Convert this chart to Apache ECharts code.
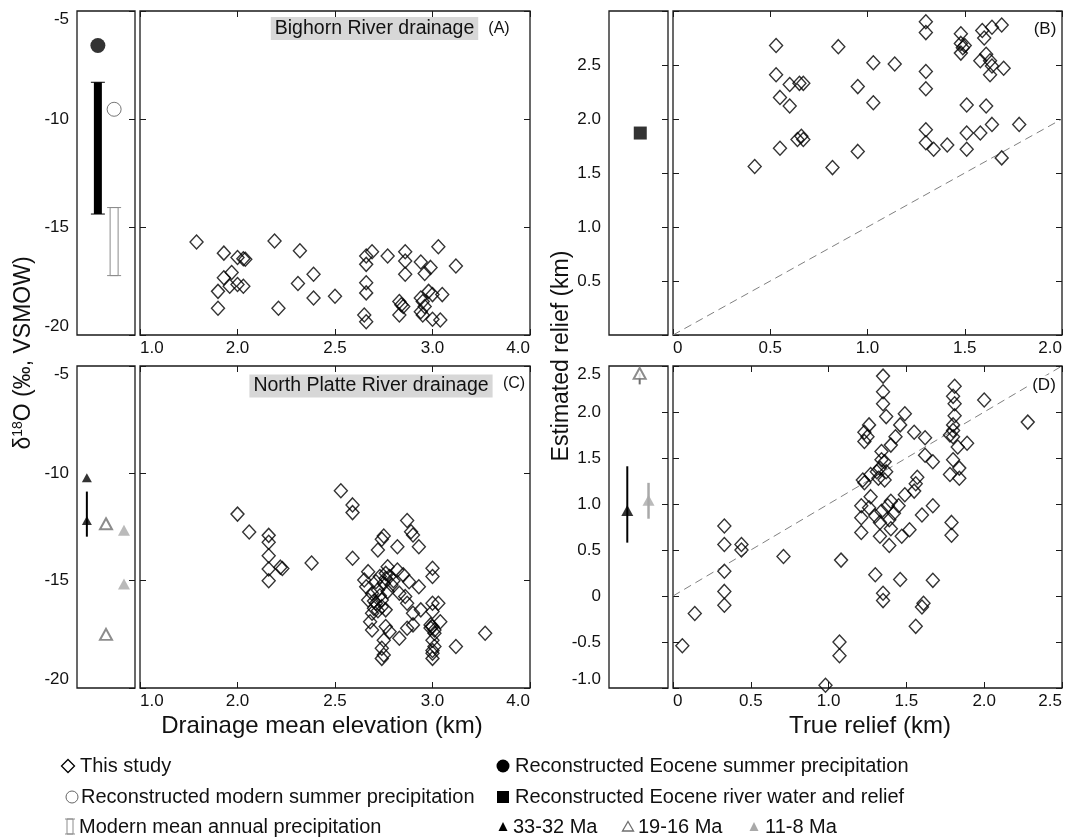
<!DOCTYPE html>
<html>
<head>
<meta charset="utf-8">
<script src="https://cdn.jsdelivr.net/npm/echarts@6/dist/echarts.min.js"></script>
<style>
  html, body { margin: 0; padding: 0; background: #fff; }
  #chart { width: 1065px; height: 837px; }
</style>
</head>
<body>
<div id="chart"></div>
<script>
// ---------- data ----------
// Elevation axis tick labels (as printed on the panels)
const elevTickLabels = ['1.0', '2.0', '2.5', '3.0', '4.0'];

// (A) Bighorn River drainage: mean elevation (km) vs d18O
const bighornElev = [1.79, 1.93, 2.00, 2.03, 2.04, 2.19, 2.32, 2.66, 2.69, 2.77, 2.86, 2.94, 3.03, 3.12, 2.66, 2.86, 2.99,
  1.93, 1.97, 1.90, 1.96, 2.00, 2.03, 1.90, 2.21, 2.31, 2.39, 2.39, 2.50, 2.66, 2.66, 2.65, 2.66,
  2.86, 2.96, 2.83, 2.84, 2.85, 2.83, 2.94, 2.95, 2.98, 3.00, 3.05, 2.96, 2.94, 2.95, 3.00, 3.04];
const bighornD18O = [-15.69, -16.21, -16.41, -16.47, -16.49, -15.65, -16.10, -16.34, -16.15, -16.34, -16.15, -16.62, -15.91, -16.81, -16.73, -16.57, -16.87,
  -17.35, -17.11, -17.98, -17.74, -17.66, -17.74, -18.76, -18.76, -17.62, -17.19, -18.29, -18.21, -17.58, -18.05, -19.07, -19.39,
  -17.19, -17.15, -18.45, -18.60, -18.68, -19.07, -18.29, -18.45, -17.98, -18.13, -18.13, -18.68, -18.92, -19.07, -19.27, -19.31];

// (C) North Platte River drainage
const platteElev = [2.00, 2.06, 2.16, 2.16, 2.16, 2.16, 2.16, 2.22, 2.23, 2.38,
  2.53, 2.59, 2.59, 2.87, 2.89, 2.90, 2.75, 2.74, 2.72, 2.82, 2.93, 2.59, 3.00, 3.00,
  2.67, 2.77, 2.76, 2.73, 2.78, 2.82, 2.65, 2.71, 2.75, 2.79, 2.85, 2.88, 2.93, 2.66,
  2.72, 2.77, 2.83, 2.86, 2.87, 2.67, 2.71, 2.74, 2.76, 2.70, 2.69, 2.90, 2.94, 3.00,
  3.03, 3.00, 3.04, 2.99, 3.00, 3.01, 2.68, 2.69, 2.76, 2.78, 2.83, 2.87, 2.90, 2.75,
  2.74, 2.75, 3.00, 3.01, 3.00, 3.12, 3.27, 2.74, 3.00, 3.00, 2.69, 2.73, 2.70, 2.74,
  2.76, 2.80, 2.72, 3.01, 2.99];
const platteD18O = [-11.90, -12.73, -12.89, -13.21, -13.84, -14.46, -15.00, -14.37, -14.43, -14.18,
  -10.81, -11.47, -11.83, -12.20, -12.72, -12.87, -12.92, -13.07, -13.57, -13.42, -13.42, -13.96, -14.42, -14.81,
  -14.58, -14.35, -14.66, -14.81, -14.81, -14.50, -14.97, -15.05, -15.12, -15.20, -14.73, -15.05, -15.28, -15.28,
  -15.43, -15.51, -15.59, -15.74, -16.05, -15.90, -16.05, -16.21, -16.36, -16.29, -16.52, -16.52, -16.36, -16.05,
  -16.05, -16.44, -16.91, -17.06, -17.14, -17.45, -16.91, -17.30, -17.14, -17.38, -17.68, -17.22, -17.06, -17.78,
  -18.15, -18.46, -17.78, -18.07, -18.38, -18.07, -17.45, -18.62, -18.62, -18.25, -15.60, -15.70, -15.95, -15.90,
  -14.90, -15.00, -16.40, -17.30, -17.20];

// (B) Bighorn: true relief vs estimated relief (km)
const bighornTrueRelief = [0.42, 0.53, 0.53, 0.55, 0.55, 0.60, 0.60, 0.65, 0.67, 0.64, 0.66, 0.67, 0.85, 0.82, 0.95, 0.95,
  1.03, 1.03, 1.14, 1.30, 1.30, 1.30, 1.30, 1.30, 1.30, 1.34, 1.41, 1.48, 1.48, 1.49, 1.48, 1.50, 1.51, 1.51, 1.51,
  1.58, 1.59, 1.60, 1.64, 1.69, 1.58, 1.61, 1.63, 1.64, 1.63, 1.70, 1.61, 1.64, 1.69, 1.78];
const bighornEstRelief = [1.56, 2.68, 2.41, 2.20, 1.73, 2.12, 2.32, 2.33, 2.33, 1.81, 1.84, 1.81, 2.67, 1.55, 2.30, 1.70,
  2.52, 2.15, 2.51, 2.90, 2.80, 2.44, 2.28, 1.90, 1.78, 1.72, 1.76, 2.79, 2.70, 2.66, 2.61, 2.68, 2.13, 1.87, 1.72,
  1.87, 2.82, 2.75, 2.85, 2.87, 2.54, 2.60, 2.54, 2.49, 2.41, 2.47, 2.12, 1.95, 1.64, 1.95];

// (D) North Platte: true relief vs estimated relief (km)
const platteTrueRelief = [0.06, 0.14, 0.33, 0.33, 0.33, 0.33, 0.33, 0.44, 0.44, 0.71, 0.98, 1.07, 1.07, 1.08,
  1.30, 1.35, 1.35, 1.46, 1.67, 1.61, 1.60, 1.56, 1.21, 1.33, 1.39, 1.47, 1.52, 1.60, 1.67, 1.79, 1.79,
  1.21, 1.21, 1.27, 1.26, 1.30, 1.34, 1.33, 1.38, 1.40, 1.42, 1.39, 1.40, 1.45, 1.49, 1.55, 1.56, 1.57,
  1.22, 1.23, 1.27, 1.31, 1.33, 1.32, 1.36, 1.37, 1.34, 1.34, 1.36, 1.43, 1.40, 1.23, 1.23, 1.26, 1.25,
  1.49, 1.46, 1.55, 1.62, 1.62, 1.67, 1.35, 1.35, 1.35, 1.37, 1.81, 1.80, 1.81, 1.81, 1.80, 1.78, 1.80,
  1.80, 1.83, 1.89, 1.80, 1.78, 1.84, 1.84, 2.00, 2.28];
const platteEstRelief = [-0.54, -0.19, 0.76, 0.56, 0.27, 0.05, -0.10, 0.56, 0.50, 0.43, -0.97, -0.50, -0.65, 0.39,
  0.23, 0.03, -0.05, 0.18, 0.17, -0.08, -0.12, -0.33, 0.69, 0.65, 0.55, 0.65, 0.72, 0.88, 0.98, 0.80, 0.66,
  0.98, 0.85, 1.08, 0.96, 0.87, 0.92, 0.80, 0.98, 1.03, 0.90, 0.83, 0.73, 0.98, 1.10, 1.14, 1.22, 1.29,
  1.26, 1.23, 1.32, 1.35, 1.39, 1.28, 1.26, 1.35, 1.57, 1.48, 1.46, 1.73, 1.64, 1.78, 1.68, 1.86, 1.73,
  1.98, 1.86, 1.78, 1.72, 1.53, 1.46, 2.39, 2.22, 2.09, 1.95, 2.28, 2.17, 2.09, 1.96, 1.86, 1.75, 1.73,
  1.80, 1.62, 1.66, 1.48, 1.32, 1.39, 1.28, 2.13, 1.89];

// Side-strip reference values
const eoceneSummerD18O = [-6.6];
const eoceneRangeD18O = [-8.3, -14.4];
const modernSummerD18O = [-9.55];
const modernAnnualRangeD18O = [-14.1, -17.25];
const eoceneRiverRelief = [1.87];
const ma33D18O = [-10.2, -12.2];
const ma33RangeD18O = [-10.85, -12.95];
const ma19D18O = [-12.35, -17.5];
const ma11D18O = [-12.65, -15.15];
const ma33Relief = [0.93];
const ma33RangeRelief = [0.58, 1.41];
const ma19Relief = [2.42];
const ma19RangeRelief = [2.30, 2.42];
const ma11Relief = [1.04];
const ma11RangeRelief = [0.84, 1.23];

// 1:1 reference lines (true relief = estimated relief)
const oneToOneB = [0, 2.0];
const oneToOneD = [0, 2.5];

// ---------- layout & styling ----------
const FONT = '"Liberation Sans", Arial, Helvetica, sans-serif';
const INK = '#111';
const FRAME = '#1a1a1a';
const GRAY_DARK = '#6f6f6f';
const GRAY_LIGHT = '#a9a9a9';

const grids = [], xAxes = [], yAxes = [], series = [];

const tickStyle = { inside: true, length: 6, lineStyle: { color: FRAME, width: 1 } };
const noLine = { show: false, onZero: false };
const labelBase = { color: INK, fontFamily: FONT, fontSize: 17 };

function fmtElev(v) { return elevTickLabels[Math.round((v - 1.5) / 0.5)] || ''; }
function fmtRelief(v) { return Math.abs(v) < 1e-9 ? '0' : v.toFixed(1); }
function fmtD18O(v) { return String(Math.round(v)); }

// One framed grid; returns the bottom-x / left-y axis indices
function addGrid(box, xSpec, ySpec, strip) {
  const gi = grids.length;
  grids.push({ left: box[0], top: box[1], width: box[2], height: box[3], show: true,
    borderColor: FRAME, borderWidth: 1.3, backgroundColor: 'rgba(0,0,0,0)' });
  const xi = xAxes.length, yi = yAxes.length;
  const yCommon = { type: 'value', gridIndex: gi, min: ySpec.min, max: ySpec.max, interval: ySpec.interval,
    axisLine: noLine, splitLine: { show: false } };
  if (strip) {
    xAxes.push({ type: 'value', gridIndex: gi, min: 0, max: 1, show: false, axisLine: noLine });
    yAxes.push(Object.assign({}, yCommon, { position: 'left', axisTick: { show: false },
      axisLabel: Object.assign({ margin: 8, formatter: ySpec.fmt, showMinLabel: true, showMaxLabel: true,
        verticalAlignMinLabel: 'bottom', verticalAlignMaxLabel: 'top' }, labelBase) }));
    yAxes.push(Object.assign({}, yCommon, { position: 'right', axisTick: tickStyle, axisLabel: { show: false } }));
  } else {
    const xCommon = { type: 'value', gridIndex: gi, min: xSpec.min, max: xSpec.max, interval: xSpec.interval,
      axisLine: noLine, axisTick: tickStyle, splitLine: { show: false } };
    xAxes.push(Object.assign({}, xCommon, { position: 'bottom',
      axisLabel: Object.assign({ margin: 5, formatter: xSpec.fmt, showMinLabel: true, showMaxLabel: true,
        alignMinLabel: 'left', alignMaxLabel: 'right' }, labelBase) }));
    xAxes.push(Object.assign({}, xCommon, { position: 'top', axisLabel: { show: false } }));
    yAxes.push(Object.assign({}, yCommon, { position: 'left', axisTick: tickStyle, axisLabel: { show: false } }));
    yAxes.push(Object.assign({}, yCommon, { position: 'right', axisTick: tickStyle, axisLabel: { show: false } }));
  }
  return { xi, yi };
}

const d18oY = { min: -20, max: -5, interval: 5, fmt: fmtD18O };
const elevX = { min: 1.5, max: 3.5, interval: 0.5, fmt: fmtElev };
const reliefYB = { min: 0, max: 3, interval: 0.5, fmt: v => (v <= 0 || v >= 3) ? '' : v.toFixed(1) };
const reliefXB = { min: 0, max: 2, interval: 0.5, fmt: fmtRelief };
const reliefYD = { min: -1, max: 2.5, interval: 0.5, fmt: fmtRelief };
const reliefXD = { min: 0, max: 2.5, interval: 0.5, fmt: fmtRelief };

const aStrip = addGrid([77, 11, 58, 324], null, d18oY, true);
const aMain  = addGrid([140, 11, 390, 324], elevX, d18oY, false);
const bStrip = addGrid([609, 11, 59, 324], null, reliefYB, true);
const bMain  = addGrid([673, 11, 390, 324], reliefXB, reliefYB, false);
const cStrip = addGrid([77, 366, 58, 322], null, d18oY, true);
const cMain  = addGrid([140, 366, 390, 322], elevX, d18oY, false);
const dStrip = addGrid([609, 366, 59, 322], null, reliefYD, true);
const dMain  = addGrid([673, 366, 390, 322], reliefXD, reliefYD, false);

// ---------- series builders ----------
function pairs(xs, ys) { return xs.map((x, i) => [x, ys[i]]); }

function diamonds(ax, xs, ys) {
  series.push({ type: 'scatter', xAxisIndex: ax.xi, yAxisIndex: ax.yi, silent: true, z: 4,
    symbol: 'diamond', symbolSize: [13, 14],
    itemStyle: { color: 'rgba(0,0,0,0)', borderColor: '#000', borderWidth: 1.4 },
    data: pairs(xs, ys) });
}

function marker(ax, col, values, symbol, size, itemStyle) {
  series.push({ type: 'scatter', xAxisIndex: ax.xi, yAxisIndex: ax.yi, silent: true, z: 5,
    symbol, symbolSize: size, itemStyle, data: values.map(v => [col, v]) });
}

function identityLine(ax, ends) {
  series.push({ type: 'line', xAxisIndex: ax.xi, yAxisIndex: ax.yi, silent: true, z: 2, symbol: 'none',
    lineStyle: { color: '#808080', width: 1, type: [8, 5] },
    data: ends.map(v => [v, v]) });
}

// kind: 'solid' thick bar with caps, 'open' outlined bar with caps, 'line' plain error line
function rangeMark(ax, col, range, kind, color, width) {
  series.push({ type: 'custom', xAxisIndex: ax.xi, yAxisIndex: ax.yi, silent: true, z: 3,
    data: [[col, range[0], range[1]]],
    renderItem(params, api) {
      const p1 = api.coord([api.value(0), api.value(1)]);
      const p2 = api.coord([api.value(0), api.value(2)]);
      const x = p1[0];
      const y0 = Math.min(p1[1], p2[1]), y1 = Math.max(p1[1], p2[1]);
      const children = [];
      if (kind === 'line') {
        children.push({ type: 'line', shape: { x1: x, y1: y0, x2: x, y2: y1 },
          style: { stroke: color, lineWidth: width } });
      } else {
        const half = width / 2;
        children.push({ type: 'rect', shape: { x: x - half, y: y0, width: width, height: y1 - y0 },
          style: kind === 'solid' ? { fill: color } : { fill: '#fff', stroke: color, lineWidth: 1 } });
        [y0, y1].forEach(yy => children.push({ type: 'line', shape: { x1: x - 7, y1: yy, x2: x + 7, y2: yy },
          style: { stroke: color, lineWidth: 1 } }));
      }
      return { type: 'group', children };
    } });
}

// ---------- panel A ----------
rangeMark(aStrip, 0.36, eoceneRangeD18O, 'solid', '#000', 8);
rangeMark(aStrip, 0.64, modernAnnualRangeD18O, 'open', '#8c8c8c', 8);
marker(aStrip, 0.36, eoceneSummerD18O, 'circle', 15, { color: '#000' });
marker(aStrip, 0.64, modernSummerD18O, 'circle', 14, { color: '#fff', borderColor: '#555', borderWidth: 1 });
diamonds(aMain, bighornElev, bighornD18O);

// ---------- panel B ----------
marker(bStrip, 0.53, eoceneRiverRelief, 'rect', 13, { color: '#000' });
identityLine(bMain, oneToOneB);
diamonds(bMain, bighornTrueRelief, bighornEstRelief);

// ---------- panel C ----------
rangeMark(cStrip, 0.17, ma33RangeD18O, 'line', '#000', 2);
marker(cStrip, 0.17, ma33D18O, 'triangle', [10, 9], { color: '#000' });
marker(cStrip, 0.50, ma19D18O, 'triangle', [12, 11], { color: '#fff', borderColor: GRAY_DARK, borderWidth: 2 });
marker(cStrip, 0.81, ma11D18O, 'triangle', [12, 11], { color: GRAY_LIGHT });
diamonds(cMain, platteElev, platteD18O);

// ---------- panel D ----------
rangeMark(dStrip, 0.31, ma33RangeRelief, 'line', '#000', 2);
rangeMark(dStrip, 0.67, ma11RangeRelief, 'line', GRAY_LIGHT, 2.5);
rangeMark(dStrip, 0.52, ma19RangeRelief, 'line', GRAY_DARK, 2);
marker(dStrip, 0.31, ma33Relief, 'triangle', [12, 11], { color: '#000' });
marker(dStrip, 0.67, ma11Relief, 'triangle', [12, 11], { color: GRAY_LIGHT });
marker(dStrip, 0.52, ma19Relief, 'triangle', [12, 11], { color: '#fff', borderColor: GRAY_DARK, borderWidth: 2 });
identityLine(dMain, oneToOneD);
diamonds(dMain, platteTrueRelief, platteEstRelief);

// ---------- text & legend graphics ----------
function txt(x, y, text, size, extra) {
  return Object.assign({ type: 'text', x, y, silent: true, z: 20,
    style: Object.assign({ text, fontSize: size, fontFamily: FONT, fill: INK, align: 'center', verticalAlign: 'middle' },
      extra && extra.style) }, extra && extra.props);
}
const left = { style: { align: 'left' } };

const graphics = [
  txt(374.5, 28.5, 'Bighorn River drainage', 19.5, { style: { backgroundColor: '#d7d7d7', padding: [2, 4, 1, 4] } }),
  txt(499, 29, '(A)', 16),
  txt(1045, 29, '(B)', 17),
  txt(371, 386, 'North Platte River drainage', 19.5, { style: { backgroundColor: '#d7d7d7', padding: [2, 4, 1, 4] } }),
  txt(514, 384, '(C)', 16),
  txt(1044, 385, '(D)', 17, { style: { backgroundColor: '#fff', padding: [1, 2] } }),
  // axis titles
  { type: 'text', x: 24, y: 353, rotation: Math.PI / 2, silent: true, z: 20,
    style: { text: '{n|δ}{s|18}{n|O (‰, VSMOW)}', align: 'center', verticalAlign: 'middle', fill: INK,
      rich: { n: { fontSize: 23, fontFamily: FONT, fill: INK, lineHeight: 26 },
              s: { fontSize: 14, fontFamily: FONT, fill: INK, lineHeight: 14, verticalAlign: 'top' } } } },
  txt(562, 356, 'Estimated relief (km)', 23, { props: { rotation: Math.PI / 2 } }),
  txt(322, 726, 'Drainage mean elevation (km)', 24),
  txt(870, 726, 'True relief (km)', 24),
  // legend: left column
  { type: 'polygon', silent: true, shape: { points: [[68, 759.5], [74.5, 766], [68, 772.5], [61.5, 766]] },
    style: { fill: 'none', stroke: '#000', lineWidth: 1.3 } },
  txt(80, 766, 'This study', 20, left),
  { type: 'circle', silent: true, shape: { cx: 72, cy: 797, r: 6 }, style: { fill: 'none', stroke: '#666', lineWidth: 1 } },
  txt(81, 797, 'Reconstructed modern summer precipitation', 20, left),
  { type: 'rect', silent: true, shape: { x: 67, y: 819, width: 6, height: 15 }, style: { fill: 'none', stroke: '#8c8c8c', lineWidth: 1 } },
  { type: 'line', silent: true, shape: { x1: 65, y1: 819, x2: 75, y2: 819 }, style: { stroke: '#8c8c8c', lineWidth: 1 } },
  { type: 'line', silent: true, shape: { x1: 65, y1: 834, x2: 75, y2: 834 }, style: { stroke: '#8c8c8c', lineWidth: 1 } },
  txt(79, 827, 'Modern mean annual precipitation', 20, left),
  // legend: right column
  { type: 'circle', silent: true, shape: { cx: 503, cy: 766, r: 6.5 }, style: { fill: '#000' } },
  txt(515, 766, 'Reconstructed Eocene summer precipitation', 20, left),
  { type: 'rect', silent: true, shape: { x: 497, y: 791, width: 12, height: 12 }, style: { fill: '#000' } },
  txt(515, 797, 'Reconstructed Eocene river water and relief', 20, left),
  { type: 'polygon', silent: true, shape: { points: [[503, 822], [507.5, 831], [498.5, 831]] }, style: { fill: '#000' } },
  txt(513, 827, '33-32 Ma', 20, left),
  { type: 'polygon', silent: true, shape: { points: [[628, 821.5], [633.5, 831], [622.5, 831]] },
    style: { fill: 'none', stroke: GRAY_DARK, lineWidth: 1.3 } },
  txt(638, 827, '19-16 Ma', 20, left),
  { type: 'polygon', silent: true, shape: { points: [[754, 822], [758.5, 831], [749.5, 831]] }, style: { fill: GRAY_LIGHT } },
  txt(765, 827, '11-8 Ma', 20, left)
];

const chart = echarts.init(document.getElementById('chart'), null, { renderer: 'canvas' });
chart.setOption({
  backgroundColor: '#fff',
  animation: false,
  textStyle: { fontFamily: FONT },
  grid: grids,
  xAxis: xAxes,
  yAxis: yAxes,
  series: series,
  graphic: graphics
});
</script>
</body>
</html>
